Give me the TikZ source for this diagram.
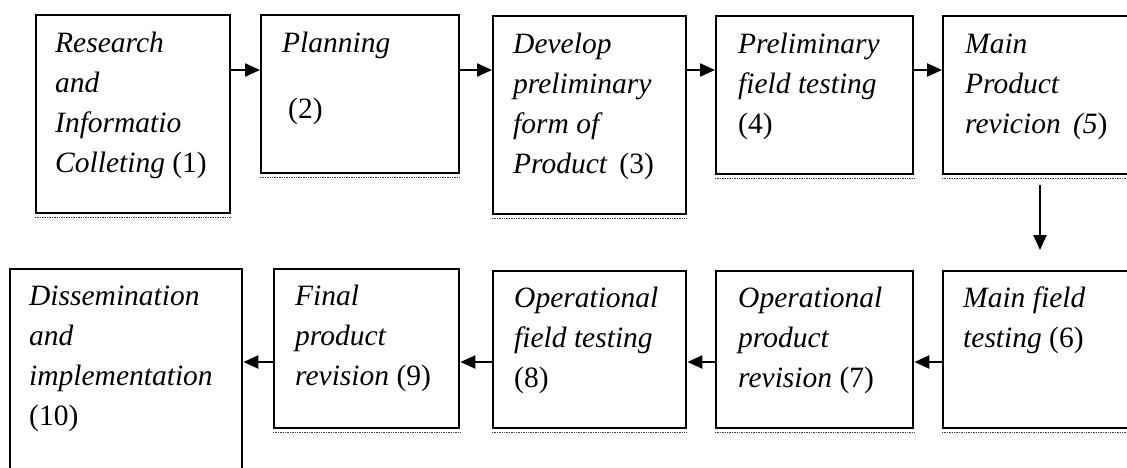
\documentclass[tikz,border=0pt]{standalone}
\usepackage{fontspec}
\setmainfont{Liberation Serif}
\usetikzlibrary{arrows.meta}
\tikzset{
  box/.style={draw=black, line width=2.4pt, fill=white, anchor=north west, inner sep=0pt},
  txt/.style={anchor=base west, inner sep=0pt, font=\fontsize{29.5}{40}\selectfont\itshape},
  arr/.style={line width=2.2pt, -{Triangle[length=15pt,width=13pt]}},
  shade/.style={densely dotted, line width=1.4pt, black!75}
}
\newcommand{\lines}[1]{\parbox[t]{260pt}{#1}}
\begin{document}
\begin{tikzpicture}[x=1pt,y=-1pt]
\clip (0,0) rectangle (1127,467);
\fill[white] (0,0) rectangle (1127,467);
% top row
\node[box, minimum width=194pt, minimum height=198pt] (b1) at (35,14) {};
\node[box, minimum width=198pt, minimum height=158pt] (b2) at (260,14) {};
\node[box, minimum width=193pt, minimum height=198pt] (b3) at (492,15) {};
\node[box, minimum width=197pt, minimum height=158pt] (b4) at (715,15) {};
\node[box, minimum width=205pt, minimum height=158pt] (b5) at (942,15) {};
% bottom row
\node[box, minimum width=205pt, minimum height=157pt] (b6) at (942,270) {};
\node[box, minimum width=197pt, minimum height=157pt] (b7) at (715,270) {};
\node[box, minimum width=193pt, minimum height=157pt] (b8) at (492,270) {};
\node[box, minimum width=185pt, minimum height=159pt] (b9) at (273,268) {};
\node[box, minimum width=232pt, minimum height=230pt] (b10) at (9,268) {};
% dotted shadows under bottom edges
\foreach \b in {b1,b2,b3,b4,b5,b6,b7,b8,b9}
  \draw[shade] ([yshift=-3pt]\b.south west) -- ([yshift=-3pt]\b.south east);
% texts
\node[txt] (t1) at (55,52) {\lines{Research\\and\\Informatio\\Colleting \textup{(1)}}};
\node[txt] (t2a) at (282,52) {Planning};
\node[txt] (t2b) at (288,118) {\textup{(2)}};
\node[txt] (t3) at (513,53) {\lines{Develop\\preliminary\\form of\\Product\, \textup{(3)}}};
\node[txt] (t4) at (738,53) {\lines{Preliminary\\field testing\\\textup{(4)}}};
\node[txt] (t5) at (965,53) {\lines{Main\\Product\\revicion\, (5\textup{)}}};
\node[txt] (t6) at (963,307) {\lines{Main field\\testing \textup{(6)}}};
\node[txt] (t7) at (738,307) {\lines{Operational\\product\\revision \textup{(7)}}};
\node[txt] (t8) at (514,307) {\lines{Operational\\field testing\\\textup{(8)}}};
\node[txt] (t9) at (295,305) {\lines{Final\\product\\revision \textup{(9)}}};
\node[txt] (t10) at (29,305) {\lines{Dissemination\\and\\implementation\\\textup{(10)}}};
% arrows top row
\draw[arr] (b1.east |- 0,70) -- (b2.west |- 0,70);
\draw[arr] (b2.east |- 0,70) -- (b3.west |- 0,70);
\draw[arr] (b3.east |- 0,70) -- (b4.west |- 0,70);
\draw[arr] (b4.east |- 0,70) -- (b5.west |- 0,70);
% down arrow
\coordinate (d1) at (1040,185);
\coordinate (d2) at (1040,250);
\draw[arr] (d1) -- (d2);
% arrows bottom row
\draw[arr] (b6.west |- 0,362) -- (b7.east |- 0,362);
\draw[arr] (b7.west |- 0,362) -- (b8.east |- 0,362);
\draw[arr] (b8.west |- 0,362) -- (b9.east |- 0,362);
\draw[arr] (b9.west |- 0,362) -- (b10.east |- 0,362);
\end{tikzpicture}
\end{document}
